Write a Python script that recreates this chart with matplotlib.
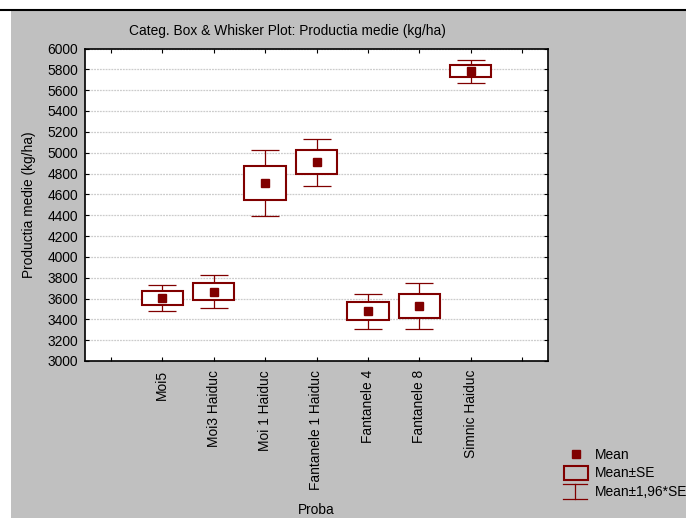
import matplotlib
matplotlib.use("Agg")
import matplotlib.pyplot as plt
from matplotlib.patches import Rectangle
from matplotlib.lines import Line2D

plt.rcParams['font.family'] = ['Liberation Sans', 'DejaVu Sans']
plt.rcParams['font.size'] = 9.9

# Productia medie per proba: mean and standard error
categories = ["Moi5", "Moi3 Haiduc", "Moi 1 Haiduc", "Fantanele 1 Haiduc",
              "Fantanele 4", "Fantanele 8", "Simnic Haiduc"]
means = [3605, 3667, 4710, 4908, 3478, 3527, 5780]
se = [63, 80, 160, 116, 85, 114, 58]

RED = "#800000"
GRAY = "#c0c0c0"
W, H = 686, 518

fig = plt.figure(figsize=(W / 100, H / 100), dpi=100, facecolor="white")

# background panel in pixel coordinates
bg = fig.add_axes([0, 0, 1, 1], zorder=-5)
bg.set_xlim(0, W)
bg.set_ylim(H, 0)
bg.axis("off")
bg.add_patch(Rectangle((11, 11), W - 11, H - 11, facecolor=GRAY, edgecolor="none"))
bg.plot([0, W], [10, 10], color="black", lw=1.5, solid_capstyle="butt")

# main plot area
left, right, top, bottom = 85, 548, 48.5, 361
ax = fig.add_axes([left / W, (H - bottom) / H, (right - left) / W, (bottom - top) / H])
ax.set_facecolor("white")

pos = list(range(1, len(categories) + 1))
ci = [1.96 * s for s in se]

ax.errorbar(pos, means, yerr=ci, fmt="none", ecolor=RED, elinewidth=0.9,
            capsize=10.3, capthick=0.9, zorder=2)
for x, m, s in zip(pos, means, se):
    ax.add_patch(Rectangle((x - 0.4, m - s), 0.8, 2 * s, facecolor="white",
                           edgecolor=RED, lw=1.5, zorder=3))
ax.plot(pos, means, "s", color=RED, markersize=5.3, zorder=4)

ax.set_xlim(-0.5, 8.5)
ax.set_ylim(3000, 6000)
ax.set_xticks(range(0, 9))
ax.set_xticklabels([""] + categories + [""], rotation=90, va="top")
ax.set_yticks(range(3000, 6001, 200))
ax.tick_params(axis="both", direction="in", length=3, width=0.8, colors="black")
ax.tick_params(axis="x", top=True, pad=6.5)
ax.tick_params(axis="y", right=True, pad=5)
ax.grid(axis="y", color="#cccccc", linestyle=(0, (1.5, 0.8)), lw=0.9)
ax.set_axisbelow(True)
for sp in ax.spines.values():
    sp.set_linewidth(1.2)

ax.set_xlabel("Proba")
ax.xaxis.set_label_coords(0.5, -(510 - bottom) / (bottom - top))
ax.xaxis.label.set_va("center")
ax.set_ylabel("Productia medie (kg/ha)")
ax.yaxis.set_label_coords((29.5 - left) / (right - left), 0.5)
ax.yaxis.label.set_va("center")

fig.text(129 / W, (H - 31) / H, "Categ. Box & Whisker Plot: Productia medie (kg/ha)",
         ha="left", va="center")

# legend glyphs
leg = fig.add_axes([0, 0, 1, 1], zorder=5)
leg.set_xlim(0, W)
leg.set_ylim(H, 0)
leg.axis("off")
leg.add_line(Line2D([575.5], [453.7], marker="s", color=RED, markersize=5.3, ls="none"))
leg.add_patch(Rectangle((563.5, 466), 24, 14, facecolor="none", edgecolor=RED, lw=1.5))
leg.add_line(Line2D([563, 587], [483.5, 483.5], color=RED, lw=0.9))
leg.add_line(Line2D([563, 587], [499, 499], color=RED, lw=0.9))
leg.add_line(Line2D([575, 575], [483.5, 499], color=RED, lw=0.9))
leg.text(595, 455, "Mean", va="center", ha="left")
leg.text(595, 473, "Mean\u00b1SE", va="center", ha="left")
leg.text(595, 491.5, "Mean\u00b11,96*SE", va="center", ha="left")

fig.savefig("out.png", dpi=100)
